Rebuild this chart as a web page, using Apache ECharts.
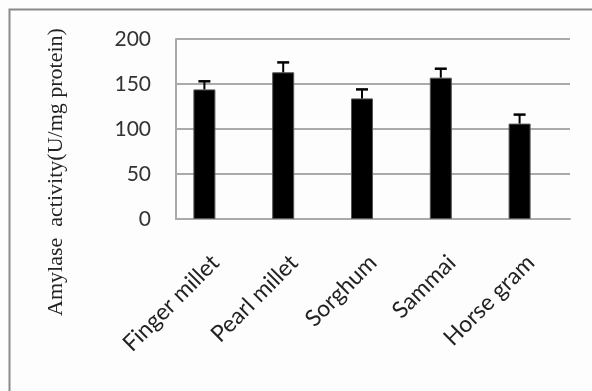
<!DOCTYPE html>
<html><head><meta charset="utf-8">
<script src="https://cdn.jsdelivr.net/npm/echarts@6/dist/echarts.min.js"></script>
<style>html,body{margin:0;padding:0;background:#fff;}#c{width:592px;height:391px;}</style>
</head><body><div id="c"></div>
<script>
var categories = ['Finger millet', 'Pearl millet', 'Sorghum', 'Sammai', 'Horse gram'];
var values = [144, 163, 134, 157, 106];
var errors = [9, 11, 10, 10, 10];
var yTicks = [0, 50, 100, 150, 200];
var yName = 'Amylase  activity(U/mg protein)';

var BAR_W = 22;
var chart = echarts.init(document.getElementById('c'), null, {renderer: 'canvas'});
chart.setOption({
  backgroundColor: '#fdfdfd',
  animation: false,
  graphic: [{
    type: 'rect', left: 7, top: 7, shape: {width: 640, height: 440},
    style: {fill: 'none', stroke: '#8a8a8a', lineWidth: 2}, z: 100
  }, {
    type: 'text', x: 56, y: 172, rotation: Math.PI / 2,
    style: {text: yName, fontFamily: 'Liberation Serif', fontSize: 22, fill: '#222',
            align: 'center', verticalAlign: 'middle'}
  }],
  grid: {left: 176, right: 22, top: 39, bottom: 172},
  xAxis: {
    type: 'category', data: categories,
    axisLine: {lineStyle: {color: '#aaaaaa', width: 2}},
    axisTick: {show: false},
    axisLabel: {rotate: 45, interval: 0, margin: 40, fontSize: 23, fontFamily: 'Lato', color: '#222'}
  },
  yAxis: {
    type: 'value', min: yTicks[0], max: yTicks[yTicks.length - 1], interval: 50,
    axisLine: {show: true, lineStyle: {color: '#aaaaaa', width: 2}},
    axisTick: {show: false},
    splitLine: {lineStyle: {color: '#aaaaaa', width: 2}},
    axisLabel: {margin: 25, fontSize: 21, fontFamily: 'Lato', color: '#333'}
  },
  series: [{
    type: 'bar', data: values, barWidth: BAR_W, barGap: '0%',
    itemStyle: {color: '#000', borderColor: '#555', borderWidth: 1}
  }, {
    type: 'bar', data: values.map(function(){return null;}), barWidth: BAR_W
  }, {
    type: 'custom',
    data: values.map(function(v, i){ return [i, v, errors[i]]; }),
    renderItem: function(params, api) {
      var i = api.value(0), v = api.value(1), e = api.value(2);
      var p0 = api.coord([i, v]);
      var p1 = api.coord([i, v + e]);
      var x = p0[0] - BAR_W / 2;
      return {type: 'group', children: [
        {type: 'line', shape: {x1: x, y1: p0[1], x2: x, y2: p1[1]}, style: {stroke: '#000', lineWidth: 2}},
        {type: 'line', shape: {x1: x - 6, y1: p1[1], x2: x + 6, y2: p1[1]}, style: {stroke: '#000', lineWidth: 2.5}}
      ]};
    },
    z: 10
  }]
});
</script></body></html>
